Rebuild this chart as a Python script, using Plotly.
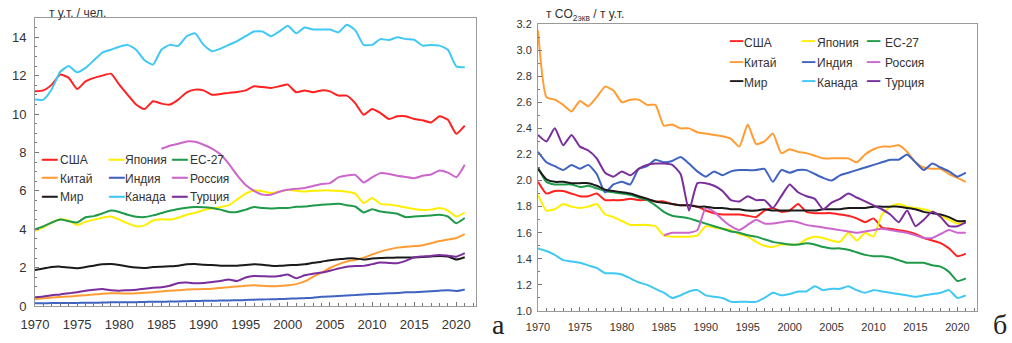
import plotly.graph_objects as go

W, H = 1012, 343

years = list(range(1970, 2022))
years_ru = list(range(1985, 2022))

names = ["США", "Япония", "ЕС-27", "Китай", "Индия", "Россия", "Мир", "Канада", "Турция"]
colors = ["#FF2020", "#FFEE00", "#1E9A4A", "#FF9C33", "#3F63C0", "#CC66CC", "#1A1A1A", "#40C8F4", "#7A2E9C"]

# ---- Left panel: energy consumption per capita, t c.e. / person ----
usa_pc = [11.18, 11.23, 11.53, 12.05, 11.88, 11.3, 11.7, 11.88, 12.0, 12.1,
          11.53, 11.0, 10.49, 10.26, 10.66, 10.54, 10.49, 10.75, 11.13, 11.27,
          11.23, 11.0, 11.04, 11.1, 11.15, 11.23, 11.44, 11.4, 11.36, 11.44,
          11.53, 11.13, 11.23, 11.13, 11.23, 11.18, 10.96, 10.96, 10.57, 9.96,
          10.26, 10.05, 9.74, 9.88, 9.88, 9.74, 9.67, 9.56, 9.88, 9.70,
          8.97, 9.39]
japan_pc = [3.92, 4.1, 4.35, 4.52, 4.45, 4.22, 4.38, 4.5, 4.6, 4.66,
            4.5, 4.3, 4.15, 4.2, 4.45, 4.52, 4.5, 4.6, 4.75, 4.85,
            5.0, 5.08, 5.15, 5.25, 5.55, 5.85, 6.02, 5.98, 5.88, 5.95,
            6.05, 6.0, 5.96, 6.0, 6.02, 6.02, 6.0, 5.95, 5.85, 5.36,
            5.62, 5.32, 5.28, 5.22, 5.13, 5.05, 5.0, 5.02, 5.10, 4.97,
            4.66, 4.87]
eu_pc = [4.0, 4.15, 4.35, 4.5, 4.42, 4.35, 4.62, 4.68, 4.82, 4.97,
         4.9, 4.75, 4.65, 4.63, 4.72, 4.84, 4.96, 5.05, 5.12, 5.15,
         5.14, 5.1, 5.02, 4.9, 4.9, 5.02, 5.15, 5.1, 5.08, 5.1,
         5.1, 5.17, 5.18, 5.24, 5.27, 5.3, 5.32, 5.25, 5.18, 4.87,
         5.04, 4.92, 4.87, 4.8, 4.63, 4.66, 4.69, 4.72, 4.75, 4.66,
         4.31, 4.58]
china_pc = [0.35, 0.4, 0.44, 0.47, 0.49, 0.53, 0.56, 0.6, 0.64, 0.66,
            0.66, 0.65, 0.66, 0.69, 0.72, 0.76, 0.79, 0.82, 0.86, 0.87,
            0.88, 0.9, 0.94, 0.98, 1.02, 1.06, 1.08, 1.05, 1.03, 1.04,
            1.08, 1.14, 1.28, 1.52, 1.74, 1.98, 2.17, 2.32, 2.4, 2.52,
            2.68, 2.83, 2.95, 3.04, 3.08, 3.12, 3.17, 3.27, 3.38, 3.46,
            3.54, 3.74]
india_pc = [0.14, 0.14, 0.15, 0.15, 0.16, 0.16, 0.17, 0.17, 0.18, 0.19,
            0.19, 0.2, 0.2, 0.21, 0.22, 0.22, 0.23, 0.24, 0.25, 0.26,
            0.27, 0.27, 0.28, 0.29, 0.3, 0.31, 0.33, 0.34, 0.35, 0.36,
            0.38, 0.39, 0.41, 0.43, 0.48, 0.5, 0.52, 0.55, 0.57, 0.6,
            0.62, 0.64, 0.66, 0.68, 0.71, 0.72, 0.74, 0.77, 0.8, 0.82,
            0.78, 0.86]
russia_pc = [8.19, 8.35, 8.45, 8.57, 8.55,
             8.4, 8.2, 7.9, 7.4, 6.8, 6.3, 6.0, 5.8, 5.8, 5.95,
             6.05, 6.1, 6.15, 6.25, 6.35, 6.4, 6.7, 6.8, 6.83, 6.43,
             6.7, 6.92, 6.88, 6.78, 6.72, 6.66, 6.78, 6.85, 7.06, 6.95,
             6.71, 7.36]
world_pc = [1.88, 1.95, 2.03, 2.05, 2.0, 1.97, 2.03, 2.1, 2.17, 2.19,
            2.14, 2.06, 2.0, 1.98, 2.03, 2.05, 2.07, 2.1, 2.17, 2.19,
            2.15, 2.13, 2.1, 2.09, 2.1, 2.14, 2.17, 2.15, 2.1, 2.09,
            2.12, 2.14, 2.17, 2.25, 2.31, 2.38, 2.43, 2.48, 2.48, 2.42,
            2.47, 2.5, 2.51, 2.52, 2.53, 2.53, 2.55, 2.58, 2.61, 2.58,
            2.42, 2.54]
canada_pc = [10.75, 10.75, 11.3, 12.2, 12.5, 12.17, 12.4, 12.8, 13.2, 13.35,
             13.5, 13.6, 13.35, 12.8, 12.57, 13.35, 13.6, 13.55, 14.05, 14.2,
             13.6, 13.27, 13.4, 13.6, 13.8, 14.05, 14.3, 14.3, 14.05, 14.3,
             14.6, 14.2, 14.5, 14.4, 14.4, 14.4, 14.25, 14.65, 14.37, 13.6,
             13.6, 13.9, 13.85, 14.0, 13.9, 13.87, 13.56, 13.6, 13.56, 13.35,
             12.48, 12.43]
turkey_pc = [0.45, 0.5, 0.56, 0.6, 0.66, 0.72, 0.8, 0.85, 0.88, 0.82,
             0.8, 0.82, 0.84, 0.9, 0.95, 0.98, 1.05, 1.2, 1.22, 1.18,
             1.2, 1.25, 1.3, 1.38, 1.3, 1.48, 1.56, 1.55, 1.53, 1.56,
             1.64, 1.45, 1.6, 1.68, 1.74, 1.84, 1.95, 2.05, 2.08, 2.09,
             2.18, 2.26, 2.24, 2.23, 2.35, 2.54, 2.58, 2.61, 2.66, 2.62,
             2.57, 2.75]

# ---- Right panel: carbon intensity, t CO2eq / t c.e. ----
usa_ci = [1.99, 1.9, 1.92, 1.92, 1.9, 1.88, 1.88, 1.9, 1.85, 1.85,
          1.85, 1.86, 1.85, 1.85, 1.84, 1.84, 1.82, 1.81, 1.81, 1.8,
          1.77, 1.75, 1.74, 1.74, 1.74, 1.73, 1.72, 1.77, 1.79, 1.76,
          1.77, 1.82, 1.76, 1.75, 1.75, 1.75, 1.74, 1.73, 1.71, 1.68,
          1.71, 1.64, 1.63, 1.62, 1.61, 1.59, 1.56, 1.54, 1.52, 1.48,
          1.42, 1.44]
japan_ci = [1.89, 1.77, 1.78, 1.82, 1.8, 1.79, 1.8, 1.82, 1.74, 1.72,
            1.69, 1.66, 1.66, 1.66, 1.65, 1.58, 1.57, 1.57, 1.57, 1.58,
            1.65, 1.64, 1.63, 1.62, 1.59, 1.57, 1.53, 1.5, 1.49, 1.51,
            1.51, 1.51, 1.55, 1.57, 1.56, 1.54, 1.53, 1.6, 1.54, 1.6,
            1.57, 1.74, 1.8, 1.82, 1.8, 1.79, 1.78, 1.76, 1.73, 1.7,
            1.67, 1.68]
eu_ci = [2.1, 1.99, 1.97, 1.97, 1.97, 1.95, 1.96, 1.94, 1.92, 1.91,
         1.9, 1.89, 1.87, 1.85, 1.81, 1.76, 1.73, 1.72, 1.71, 1.69,
         1.67, 1.65, 1.63, 1.61, 1.6, 1.58, 1.57, 1.55, 1.53, 1.52,
         1.51, 1.51, 1.52, 1.51, 1.49, 1.48, 1.48, 1.47, 1.45, 1.43,
         1.42, 1.42, 1.41, 1.39, 1.37, 1.37, 1.37, 1.35, 1.34, 1.3,
         1.23, 1.25]
china_ci = [3.15, 2.64, 2.62, 2.58, 2.53, 2.61, 2.57, 2.64, 2.72, 2.69,
            2.6, 2.62, 2.62, 2.58, 2.58, 2.42, 2.43, 2.4, 2.4, 2.37,
            2.36, 2.35, 2.34, 2.32, 2.26, 2.43, 2.28, 2.3, 2.36, 2.21,
            2.24, 2.22, 2.21, 2.19, 2.17, 2.17, 2.17, 2.17, 2.14, 2.2,
            2.24, 2.26, 2.26, 2.27, 2.22, 2.14, 2.1, 2.09, 2.09, 2.05,
            2.02, 1.99]
india_ci = [2.22, 2.14, 2.11, 2.08, 2.12, 2.09, 2.12, 2.05, 1.91, 1.97,
            1.99, 1.97, 2.09, 2.11, 2.16, 2.14, 2.15, 2.18, 2.13, 2.07,
            2.03, 2.07, 2.04, 2.07, 2.08, 2.08, 2.08, 2.09, 1.99, 2.08,
            2.06, 2.08, 2.08, 2.05, 2.02, 2.0, 2.04, 2.06, 2.08, 2.1,
            2.12, 2.14, 2.16, 2.16, 2.2, 2.14, 2.08, 2.13, 2.1, 2.07,
            2.03, 2.06]
russia_ci = [1.58, 1.6, 1.6, 1.6, 1.62,
             1.79, 1.76, 1.7, 1.65, 1.62, 1.66, 1.7, 1.67, 1.67, 1.68,
             1.69, 1.68, 1.66, 1.65, 1.64, 1.63, 1.62, 1.61, 1.6, 1.61,
             1.62, 1.63, 1.62, 1.61, 1.6, 1.58, 1.56, 1.56, 1.59, 1.62,
             1.6, 1.6]
world_ci = [2.09, 2.01, 1.99, 1.99, 1.98, 1.98, 1.98, 1.96, 1.93, 1.92,
            1.91, 1.9, 1.88, 1.86, 1.84, 1.83, 1.82, 1.81, 1.81, 1.8,
            1.8, 1.79, 1.79, 1.78, 1.78, 1.77, 1.77, 1.78, 1.77, 1.77,
            1.77, 1.77, 1.77, 1.77, 1.78, 1.78, 1.78, 1.79, 1.79, 1.79,
            1.8, 1.8, 1.8, 1.8, 1.79, 1.78, 1.76, 1.75, 1.74, 1.72,
            1.69, 1.69]
canada_ci = [1.48, 1.46, 1.43, 1.39, 1.38, 1.37, 1.35, 1.33, 1.29, 1.29,
             1.28, 1.25, 1.22, 1.2, 1.17, 1.14, 1.1, 1.12, 1.15, 1.16,
             1.12, 1.11, 1.1, 1.07, 1.07, 1.07, 1.07, 1.1, 1.14, 1.12,
             1.13, 1.15, 1.15, 1.19, 1.16, 1.17, 1.17, 1.19, 1.16, 1.14,
             1.16, 1.15, 1.14, 1.13, 1.12, 1.11, 1.12, 1.13, 1.14, 1.16,
             1.1, 1.12]
turkey_ci = [2.35, 2.3, 2.4, 2.27, 2.35, 2.26, 2.23, 2.17, 2.06, 2.03,
             2.07, 2.04, 2.09, 2.12, 2.13, 2.13, 2.12, 2.05, 1.77, 1.98,
             1.98, 1.96, 1.92, 1.85, 1.84, 1.88, 1.85, 1.85, 1.79, 1.88,
             1.97, 1.91, 1.88, 1.86, 1.78, 1.83, 1.86, 1.9, 1.87, 1.84,
             1.81, 1.78, 1.74, 1.68, 1.77, 1.65, 1.7, 1.76, 1.72, 1.65,
             1.65, 1.68]

left_series = [usa_pc, japan_pc, eu_pc, china_pc, india_pc, russia_pc, world_pc, canada_pc, turkey_pc]
right_series = [usa_ci, japan_ci, eu_ci, china_ci, india_ci, russia_ci, world_ci, canada_ci, turkey_ci]

fig = go.Figure()
for name, col, lv, rv in zip(names, colors, left_series, right_series):
    xs_l = years_ru if name == "Россия" else years
    fig.add_trace(go.Scatter(x=xs_l, y=lv, mode="lines", name=name, showlegend=False,
                             line=dict(color=col, width=2, shape="spline", smoothing=0.5),
                             xaxis="x", yaxis="y"))
    fig.add_trace(go.Scatter(x=xs_l, y=rv, mode="lines", name=name, showlegend=False,
                             line=dict(color=col, width=2, shape="spline", smoothing=0.5),
                             xaxis="x2", yaxis="y2"))

TICKFONT_L = dict(family="Liberation Sans, Arial, sans-serif", size=13, color="#333333")
TICKFONT_R = dict(family="Liberation Sans, Arial, sans-serif", size=11, color="#333333")
base = dict(showgrid=False, zeroline=False, showline=True, linecolor="#9a9a9a", linewidth=1,
            mirror=True, ticks="inside", tickcolor="#777777", ticklen=4, tickwidth=1,
            automargin=False)

fig.update_layout(
    width=W, height=H, margin=dict(l=0, r=0, t=0, b=0, autoexpand=False),
    paper_bgcolor="white", plot_bgcolor="white",
    xaxis=dict(base, domain=[35 / W, 475.7 / W], range=[1970, 2022.3], anchor="y",
               tickmode="linear", tick0=1970, dtick=5, tickfont=TICKFONT_L, ticklabelstandoff=6,
               minor=dict(dtick=1, tick0=1970, ticks="inside", ticklen=3, tickcolor="#777777")),
    yaxis=dict(base, domain=[1 - 306 / H, 1 - 18 / H], range=[0, 15], anchor="x",
               tickmode="linear", tick0=0, dtick=2, tickfont=TICKFONT_L, ticklabelstandoff=5,
               minor=dict(dtick=0.5, ticks="inside", ticklen=2, tickcolor="#777777")),
    xaxis2=dict(base, domain=[538 / W, 976.7 / W], range=[1970, 2022.3], anchor="y2",
                tickmode="linear", tick0=1970, dtick=5, tickfont=TICKFONT_R, ticklabelstandoff=6,
                minor=dict(dtick=1, tick0=1970, ticks="inside", ticklen=3, tickcolor="#777777")),
    yaxis2=dict(base, domain=[1 - 311 / H, 1 - 24 / H], range=[1.0, 3.2], anchor="x2",
                tickmode="linear", tick0=1.0, dtick=0.2, tickformat=".1f", tickfont=TICKFONT_R,
                ticklabelstandoff=3,
                minor=dict(dtick=0.1, ticks="inside", ticklen=2, tickcolor="#777777")),
)

ann = []
def px(x, y):
    return x / W, 1 - y / H

def add_text(x, y, text, size=12, xanchor="left", yanchor="middle",
             family="Liberation Sans, Arial, sans-serif", color="#333333"):
    ax, ay = px(x, y)
    ann.append(dict(x=ax, y=ay, xref="paper", yref="paper", text=text, showarrow=False,
                    xanchor=xanchor, yanchor=yanchor, font=dict(family=family, size=size, color=color)))

# axis titles
add_text(47, 13, "т у.т. / чел.", size=12)
add_text(544, 15, "т CO<sub>2экв</sub> / т у.т.", size=12)

# panel letters (anchored at the bottom so the whole text box stays inside the picture)
add_text(498, 342, "а", size=28, xanchor="center", yanchor="bottom",
         family="Liberation Serif, Times New Roman, serif", color="#222222")
add_text(1000, 342, "б", size=28, xanchor="center", yanchor="bottom",
         family="Liberation Serif, Times New Roman, serif", color="#222222")

# legends (3 columns x 3 rows), keys drawn as heavy line glyphs
order = [[0, 1, 2], [3, 4, 5], [6, 7, 8]]
left_cols_line = [39, 106, 169]
left_cols_text = [58, 123, 188]
left_rows = [160, 178.5, 197]
right_cols_line = [727, 799, 864]
right_cols_text = [742, 815, 883]
right_rows = [42.7, 63.3, 82.7]

for r, row in enumerate(order):
    for c, idx in enumerate(row):
        add_text(left_cols_line[c], left_rows[r] - 1, "━━", size=13, family="DejaVu Sans", color=colors[idx])
        add_text(left_cols_text[c], left_rows[r], names[idx], size=12)
        add_text(right_cols_line[c], right_rows[r] - 1, "━━", size=11, family="DejaVu Sans", color=colors[idx])
        add_text(right_cols_text[c], right_rows[r], names[idx], size=12)

fig.update_layout(annotations=ann)
fig.write_html("out.html", config={"displayModeBar": False},
               post_script="document.body.style.margin='0px';document.body.style.padding='0px';")
